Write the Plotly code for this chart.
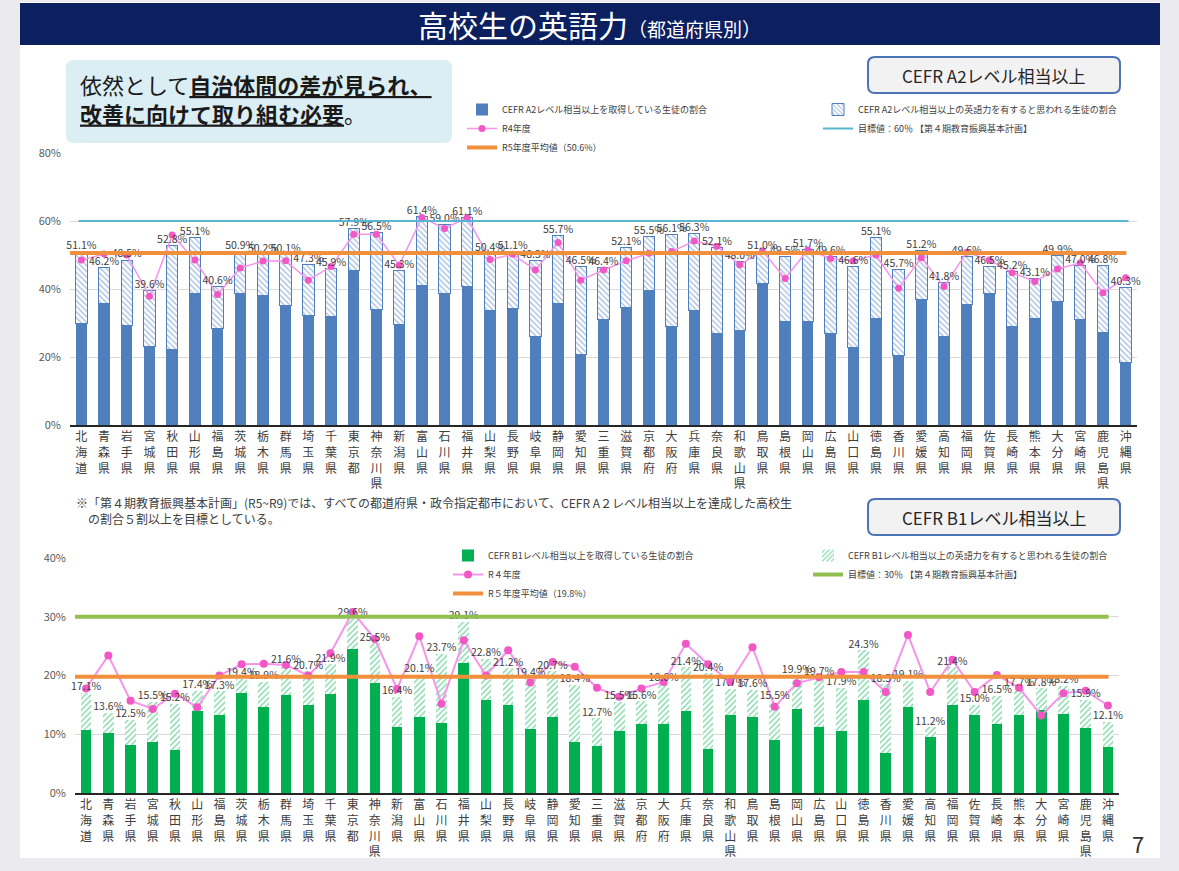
import plotly.graph_objects as go

# ---------------- data ----------------
prefs = ["北海道","青森県","岩手県","宮城県","秋田県","山形県","福島県","茨城県","栃木県","群馬県",
         "埼玉県","千葉県","東京都","神奈川県","新潟県","富山県","石川県","福井県","山梨県","長野県",
         "岐阜県","静岡県","愛知県","三重県","滋賀県","京都府","大阪府","兵庫県","奈良県","和歌山県",
         "鳥取県","島根県","岡山県","広島県","山口県","徳島県","香川県","愛媛県","高知県","福岡県",
         "佐賀県","長崎県","熊本県","大分県","宮崎県","鹿児島県","沖縄県"]

a2_total = [51.1,46.2,48.5,39.6,52.8,55.1,40.6,50.9,50.2,50.1,
            47.3,45.9,57.9,56.5,45.3,61.4,59.0,61.1,50.4,51.1,
            48.3,55.7,46.5,46.4,52.1,55.5,56.1,56.3,52.1,48.0,
            51.0,49.5,51.7,49.6,46.6,55.1,45.7,51.2,41.8,49.6,
            46.5,45.2,43.1,49.9,47.0,46.8,40.3]
a2_acquired = [29.9,35.8,29.4,23.2,22.3,38.7,28.4,38.7,38.2,35.1,
               32.1,31.9,45.3,34.1,29.6,40.9,38.7,40.7,33.8,34.3,
               26.0,35.6,20.6,30.9,34.6,39.7,28.9,33.8,26.8,27.9,
               41.5,30.4,30.4,27.0,22.8,31.4,20.4,36.8,26.0,35.3,
               38.7,29.1,31.4,36.3,31.1,27.2,18.3]
a2_r4 = [48.5,50.3,50.0,37.9,55.9,48.5,38.4,46.2,48.2,48.3,
         42.6,46.6,56.1,56.1,47.0,61.0,57.8,61.0,48.7,50.2,
         45.6,53.7,42.6,45.6,48.3,50.5,51.0,54.1,52.6,47.1,
         51.2,43.1,51.5,49.0,48.3,50.0,40.2,49.2,40.7,50.8,
         48.5,44.8,42.2,45.9,47.7,38.9,43.3]
A2_AVG = 50.6
A2_TARGET = 60

b1_total = [17.1,13.6,12.5,15.5,15.2,17.4,17.3,19.4,18.9,21.6,
            20.7,21.9,29.6,25.5,16.4,20.1,23.7,29.1,22.8,21.2,
            19.4,20.7,18.4,12.7,15.5,15.6,18.6,21.4,20.4,17.7,
            17.6,15.5,19.9,19.7,17.9,24.3,18.5,19.1,11.2,21.4,
            15.0,16.5,17.7,17.8,18.2,15.9,12.1]
b1_acquired = [10.8,10.2,8.1,8.7,7.4,13.9,13.2,17.0,14.6,16.6,
               14.9,16.9,24.5,18.8,11.2,12.9,11.9,22.2,15.9,14.9,
               10.9,12.9,8.6,8.0,10.5,11.7,11.7,13.9,7.5,13.2,
               12.9,9.1,14.3,11.2,10.5,15.9,6.8,14.7,9.5,14.9,
               13.3,11.7,13.3,14.1,13.5,11.1,7.8]
b1_r4 = [17.8,23.4,15.7,14.3,16.9,14.6,20.0,21.9,22.0,21.8,
         20.0,23.8,30.8,26.2,17.7,26.7,15.2,26.0,20.0,24.3,
         18.8,22.3,21.5,17.9,16.4,17.8,18.9,25.4,21.9,18.9,
         24.8,14.7,18.7,19.7,20.6,20.6,17.2,26.9,17.2,22.7,
         17.2,20.1,17.9,13.2,17.0,17.4,14.9]
B1_AVG = 19.8
B1_TARGET = 30

# ---------------- helpers ----------------
W, H = 1179, 871
FONT = "Noto Sans CJK JP"
def px(x): return x / W
def py(y): return 1 - y / H

def rrect(x0, y0, x1, y1, r):
    rx, ry = r / W, r / H
    X0, X1, Y0, Y1 = px(x0), px(x1), py(y1), py(y0)
    return (f"M{X0+rx},{Y0} L{X1-rx},{Y0} Q{X1},{Y0} {X1},{Y0+ry} "
            f"L{X1},{Y1-ry} Q{X1},{Y1} {X1-rx},{Y1} L{X0+rx},{Y1} "
            f"Q{X0},{Y1} {X0},{Y1-ry} L{X0},{Y0+ry} Q{X0},{Y0} {X0+rx},{Y0} Z")

vert = ["<br>".join(list(p)) for p in prefs]
a2_hatch = [round(t - a, 1) for t, a in zip(a2_total, a2_acquired)]
b1_hatch = [round(t - a, 1) for t, a in zip(b1_total, b1_acquired)]
a2_lbl = [f"{v:.1f}%" for v in a2_total]
b1_lbl = [f"{v:.1f}%" for v in b1_total]
NCAT = len(prefs)

BLUE = "#4f7fbd"
GREEN = "#00b050"
PINK_LINE = "#f794ea"
PINK_MK = "#f257c6"
ORANGE = "#f0903c"
TEAL = "#5ab4d2"
OLIVE = "#92c050"

fig = go.Figure()

# ---- top chart (A2) ----
fig.add_trace(go.Bar(x=prefs, y=a2_acquired, name="CEFR A2レベル相当以上を取得している生徒の割合",
                     marker=dict(color=BLUE, line=dict(width=0)), width=0.5,
                     xaxis="x", yaxis="y", legend="legend"))
fig.add_trace(go.Bar(x=prefs, y=a2_hatch, name="CEFR A2レベル相当以上の英語力を有すると思われる生徒の割合",
                     marker=dict(color="white", line=dict(color=BLUE, width=1),
                                 pattern=dict(shape="\\", fgcolor=BLUE, bgcolor="white", size=4, solidity=0.35)),
                     width=0.5, xaxis="x", yaxis="y", legend="legend2"))
fig.add_trace(go.Scatter(x=prefs, y=a2_r4, mode="lines+markers", name="R4年度",
                         line=dict(color=PINK_LINE, width=1.5), marker=dict(color=PINK_MK, size=7),
                         xaxis="x", yaxis="y", legend="legend"))
fig.add_trace(go.Scatter(x=prefs, y=a2_total, mode="text", text=a2_lbl, textposition="top center",
                         textfont=dict(size=10.5, color="#404040", family=FONT), showlegend=False,
                         cliponaxis=False, xaxis="x", yaxis="y"))
fig.add_trace(go.Scatter(x=[None], y=[None], mode="lines", name="目標値：60％ 【第４期教育振興基本計画】",
                         line=dict(color=TEAL, width=2), xaxis="x", yaxis="y", legend="legend2"))
fig.add_trace(go.Scatter(x=[None], y=[None], mode="lines", name="R5年度平均値（50.6%）",
                         line=dict(color=ORANGE, width=4), xaxis="x", yaxis="y", legend="legend"))

# ---- bottom chart (B1) ----
fig.add_trace(go.Bar(x=prefs, y=b1_acquired, name="CEFR B1レベル相当以上を取得している生徒の割合",
                     marker=dict(color=GREEN, line=dict(width=0)), width=0.48,
                     xaxis="x2", yaxis="y2", legend="legend3"))
fig.add_trace(go.Bar(x=prefs, y=b1_hatch, name="CEFR B1レベル相当以上の英語力を有すると思われる生徒の割合",
                     marker=dict(color="white", line=dict(width=0),
                                 pattern=dict(shape="/", fgcolor=GREEN, bgcolor="white", size=4, solidity=0.35)),
                     width=0.48, xaxis="x2", yaxis="y2", legend="legend4"))
fig.add_trace(go.Scatter(x=prefs, y=b1_r4, mode="lines+markers", name="R４年度",
                         line=dict(color=PINK_LINE, width=2), marker=dict(color=PINK_MK, size=8),
                         xaxis="x2", yaxis="y2", legend="legend3"))
fig.add_trace(go.Scatter(x=prefs, y=b1_total, mode="text", text=b1_lbl, textposition="top center",
                         textfont=dict(size=10.5, color="#404040", family=FONT), showlegend=False,
                         cliponaxis=False, xaxis="x2", yaxis="y2"))
fig.add_trace(go.Scatter(x=[None], y=[None], mode="lines", name="目標値：30％ 【第４期教育振興基本計画】",
                         line=dict(color=OLIVE, width=4), xaxis="x2", yaxis="y2", legend="legend4"))
fig.add_trace(go.Scatter(x=[None], y=[None], mode="lines", name="R５年度平均値（19.8%）",
                         line=dict(color=ORANGE, width=4), xaxis="x2", yaxis="y2", legend="legend3"))

# ---------------- layout ----------------
shapes = [
    dict(type="rect", xref="paper", yref="paper", x0=px(20), x1=px(1160), y0=py(858), y1=py(2),
         fillcolor="white", line=dict(width=0), layer="below"),
    dict(type="rect", xref="paper", yref="paper", x0=px(20), x1=px(1160), y0=py(45), y1=py(3),
         fillcolor="#0c2060", line=dict(width=0), layer="below"),
    dict(type="path", xref="paper", yref="paper", path=rrect(66, 60, 452, 143, 8),
         fillcolor="#dbeef4", line=dict(width=0), layer="below"),
    dict(type="path", xref="paper", yref="paper", path=rrect(868, 57, 1120, 93, 7),
         fillcolor="#f2f2f2", line=dict(color="#4d74b5", width=2), layer="below"),
    dict(type="path", xref="paper", yref="paper", path=rrect(868, 499, 1120, 535, 7),
         fillcolor="#f2f2f2", line=dict(color="#4d74b5", width=2), layer="below"),
    # reference lines
    dict(type="line", xref="x domain", yref="y", x0=0.008, x1=0.992, y0=A2_TARGET, y1=A2_TARGET,
         line=dict(color=TEAL, width=2)),
    dict(type="line", xref="x domain", yref="y", x0=0.0, x1=0.99, y0=A2_AVG, y1=A2_AVG,
         line=dict(color=ORANGE, width=4)),
    dict(type="line", xref="x2 domain", yref="y2", x0=0.0, x1=0.99, y0=B1_TARGET, y1=B1_TARGET,
         line=dict(color=OLIVE, width=4)),
    dict(type="line", xref="x2 domain", yref="y2", x0=0.0, x1=0.99, y0=B1_AVG, y1=B1_AVG,
         line=dict(color=ORANGE, width=4)),
]

annotations = [
    dict(xref="paper", yref="paper", x=px(589), y=py(24), xanchor="center", yanchor="middle", showarrow=False,
         text="高校生の英語力<span style='font-size:19px'>（都道府県別）</span>",
         font=dict(size=30, color="white", family=FONT)),
    dict(xref="paper", yref="paper", x=px(78), y=py(98), xanchor="left", yanchor="middle", align="left",
         showarrow=False,
         text="依然として<b><u>自治体間の差が見られ、</u></b><br><b><u>改善に向けて取り組む必要</u></b>。",
         font=dict(size=22, color="#1a1a1a", family=FONT)),
    dict(xref="paper", yref="paper", x=px(994), y=py(75), xanchor="center", yanchor="middle", showarrow=False,
         text="CEFR A2レベル相当以上", font=dict(size=17, color="#262626", family=FONT)),
    dict(xref="paper", yref="paper", x=px(994), y=py(517), xanchor="center", yanchor="middle", showarrow=False,
         text="CEFR B1レベル相当以上", font=dict(size=17, color="#262626", family=FONT)),
    dict(xref="paper", yref="paper", x=px(74), y=py(492), xanchor="left", yanchor="top", align="left",
         showarrow=False,
         text="※「第４期教育振興基本計画」(R5~R9)では、すべての都道府県・政令指定都市において、CEFR A２レベル相当以上を達成した高校生<br>　の割合５割以上を目標としている。",
         font=dict(size=12, color="#404040", family=FONT)),
    dict(xref="paper", yref="paper", x=px(1138), y=py(843), xanchor="center", yanchor="middle", showarrow=False,
         text="7", font=dict(size=22, color="#333333", family=FONT)),
]

legend_common = dict(xanchor="left", yanchor="top", bgcolor="rgba(0,0,0,0)", tracegroupgap=0,
                     traceorder="normal",
                     font=dict(size=9, color="#404040", family=FONT), itemwidth=30)

xcommon = dict(tickmode="array", tickvals=prefs, ticktext=vert, showgrid=False, ticks="",
               tickfont=dict(size=12, color="#404040", family=FONT), range=[-0.5, NCAT - 0.5],
               autorange=False, automargin=False,
               showline=True, linecolor="#262626", linewidth=2, fixedrange=True)
ycommon = dict(ticksuffix="%", gridcolor="#d9d9d9", gridwidth=1, zeroline=False, showline=False,
               tickfont=dict(size=11, color="#595959", family=FONT), ticks="", autorange=False,
               automargin=False, ticklabelstandoff=8)

fig.update_layout(
    width=W, height=H, autosize=False,
    margin=dict(l=0, r=0, t=0, b=0, pad=0, autoexpand=False),
    paper_bgcolor="#ebebef", plot_bgcolor="rgba(0,0,0,0)",
    font=dict(family=FONT, color="#404040"),
    barmode="stack",
    xaxis=dict(domain=[px(70), px(1137)], anchor="y", **xcommon),
    yaxis=dict(domain=[py(425), py(153)], range=[0, 80], dtick=20, anchor="x", **ycommon),
    xaxis2=dict(domain=[px(75), px(1119)], anchor="y2", **xcommon),
    yaxis2=dict(domain=[py(793), py(558)], range=[0, 40], dtick=10, anchor="x2", **ycommon),
    legend=dict(x=px(462), y=py(95), **legend_common),
    legend2=dict(x=px(818), y=py(95), **legend_common),
    legend3=dict(x=px(448), y=py(541), **legend_common),
    legend4=dict(x=px(808), y=py(541), **legend_common),
    shapes=shapes, annotations=annotations,
    showlegend=True,
)

fig.write_html("out.html", config={"displayModeBar": False},
               post_script=("document.documentElement.style.margin='0';"
                            "document.documentElement.style.overflow='hidden';"
                            "document.body.style.margin='0';document.body.style.padding='0';"
                            "document.body.style.overflow='hidden';"
                            "document.body.style.background='#ebebef';"
                            "var gd=document.getElementById('{plot_id}');"
                            "gd.style.position='absolute';gd.style.top='0px';gd.style.left='0px';"))
